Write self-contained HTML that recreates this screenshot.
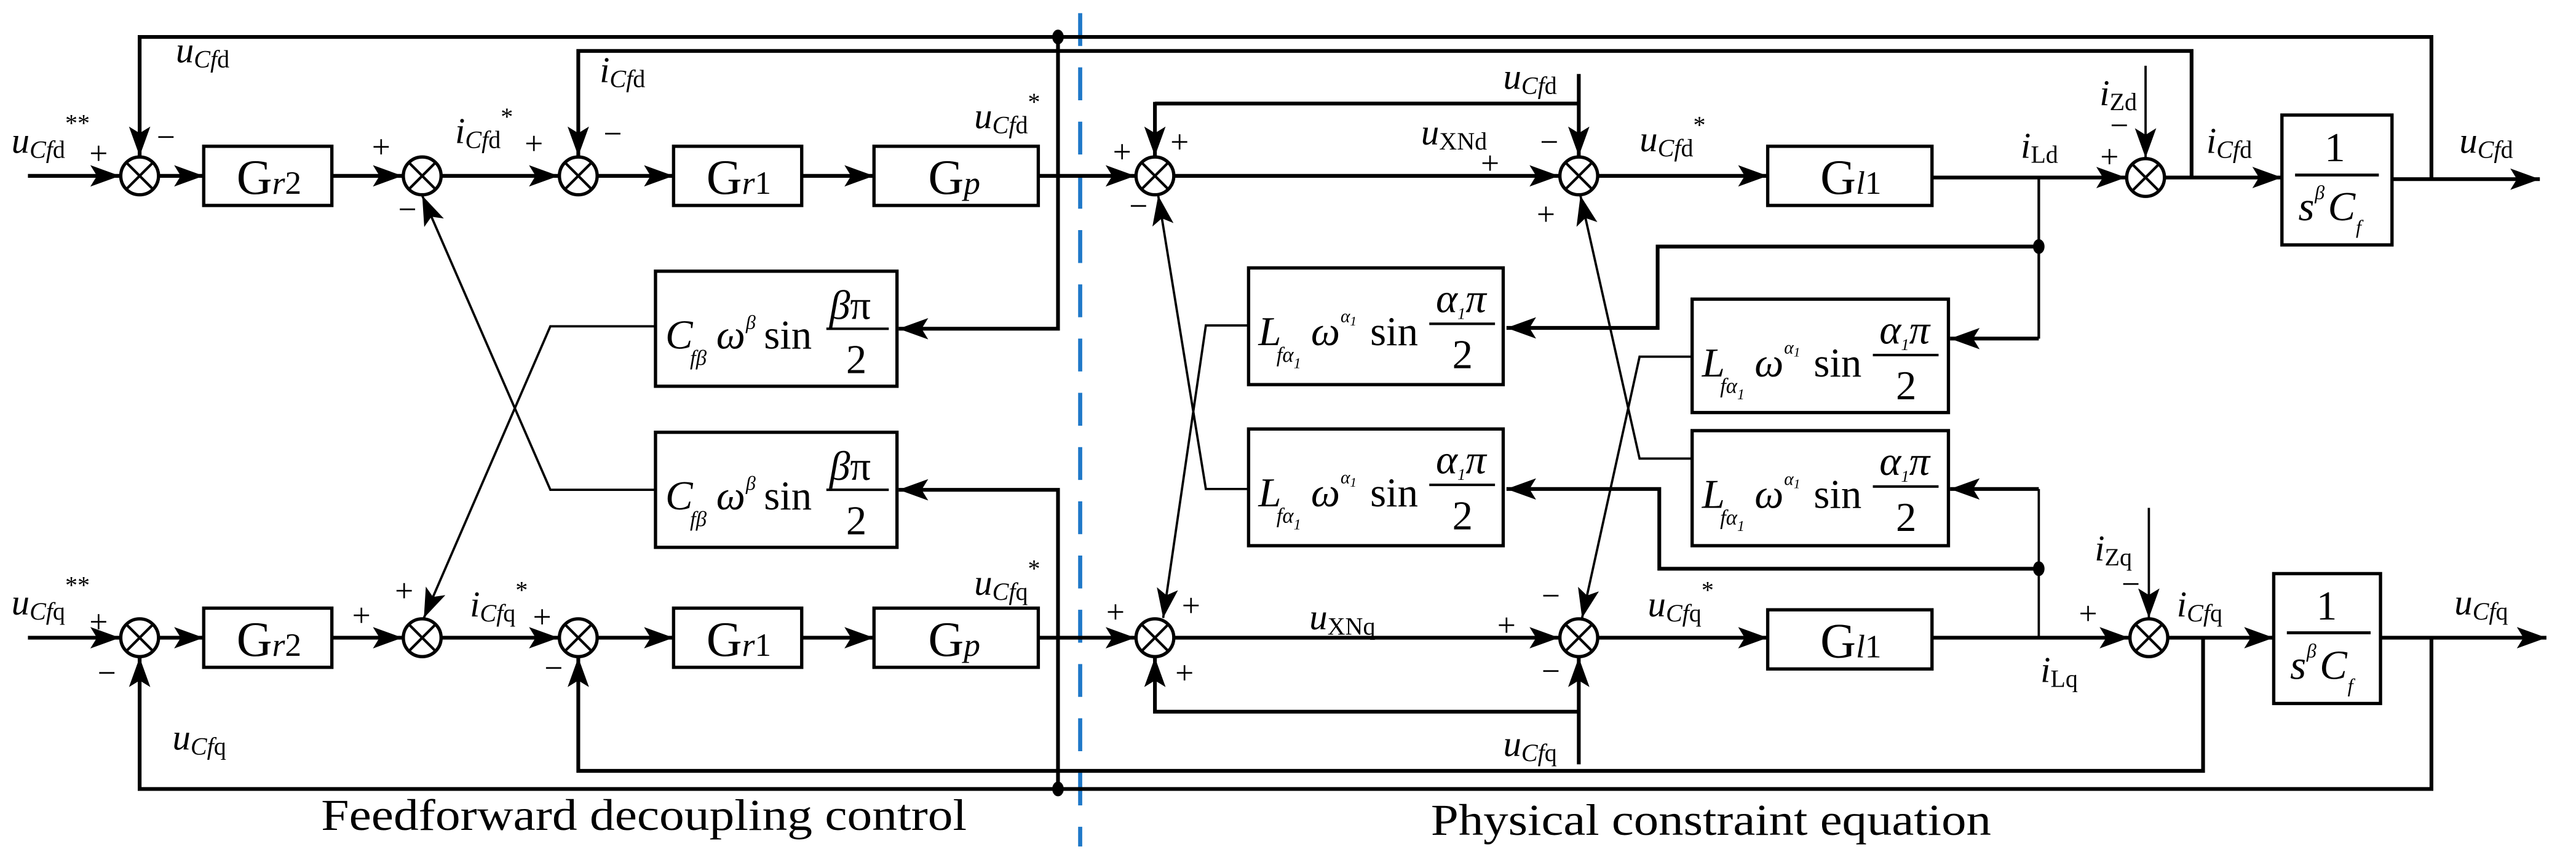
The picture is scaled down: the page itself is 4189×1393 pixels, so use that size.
<!DOCTYPE html>
<html><head><meta charset="utf-8"><style>
html,body{margin:0;padding:0;background:#fff}
svg{display:block}
text{font-family:"Liberation Serif",serif;fill:#000}
.l{font-size:22px}
.s{font-size:15px}
.pm{font-size:20px}
.g{font-size:30px}
.cap{font-size:27px}
.k{stroke:#000;fill:none}
.t{stroke-width:2.3}
.n{stroke-width:1.4}
</style></head><body>
<svg width="4189" height="1393" viewBox="0 0 1568 521.4" preserveAspectRatio="none" xmlns="http://www.w3.org/2000/svg">
<defs>
<marker id="a" markerUnits="userSpaceOnUse" markerWidth="19" markerHeight="14" refX="18" refY="6.5" orient="auto">
<path d="M0,0 L18,6.5 L0,13 L4,6.5 z" fill="#000"/></marker>
<g id="sum"><circle r="11.5" fill="#fff" stroke="#000" stroke-width="2"/><path d="M-8,-8 L8,8 M-8,8 L8,-8" stroke="#000" stroke-width="1.6"/></g>
</defs>
<rect width="1568" height="521.4" fill="#fff"/>

<line x1="657.5" y1="8" x2="657.5" y2="515" stroke="#1f78c8" stroke-width="2.5" stroke-dasharray="20,13"/>

<g class="k t">
<line x1="17" y1="107" x2="73" y2="107" marker-end="url(#a)"/>
<line x1="97" y1="107" x2="124" y2="107" marker-end="url(#a)"/>
<line x1="202" y1="107" x2="245" y2="107" marker-end="url(#a)"/>
<line x1="269" y1="107" x2="340" y2="107" marker-end="url(#a)"/>
<line x1="364" y1="107" x2="410" y2="107" marker-end="url(#a)"/>
<line x1="488" y1="107" x2="532" y2="107" marker-end="url(#a)"/>
<line x1="632" y1="107" x2="691" y2="107" marker-end="url(#a)"/>
<line x1="17" y1="388" x2="73" y2="388" marker-end="url(#a)"/>
<line x1="97" y1="388" x2="124" y2="388" marker-end="url(#a)"/>
<line x1="202" y1="388" x2="245" y2="388" marker-end="url(#a)"/>
<line x1="269" y1="388" x2="340" y2="388" marker-end="url(#a)"/>
<line x1="364" y1="388" x2="410" y2="388" marker-end="url(#a)"/>
<line x1="488" y1="388" x2="532" y2="388" marker-end="url(#a)"/>
<line x1="632" y1="388" x2="691" y2="388" marker-end="url(#a)"/>
<line x1="715" y1="107" x2="949" y2="107" marker-end="url(#a)"/>
<line x1="973" y1="107" x2="1076" y2="107" marker-end="url(#a)"/>
<line x1="1176" y1="108" x2="1294" y2="108" marker-end="url(#a)"/>
<line x1="1318" y1="108" x2="1389" y2="108" marker-end="url(#a)"/>
<line x1="1456" y1="109" x2="1546" y2="109" marker-end="url(#a)"/>
<line x1="715" y1="388" x2="949" y2="388" marker-end="url(#a)"/>
<line x1="973" y1="388" x2="1076" y2="388" marker-end="url(#a)"/>
<line x1="1176" y1="388" x2="1296" y2="388" marker-end="url(#a)"/>
<line x1="1320" y1="388" x2="1384" y2="388" marker-end="url(#a)"/>
<line x1="1449" y1="388" x2="1550" y2="388" marker-end="url(#a)"/>

<polyline points="1480,109 1480,22.5 85,22.5 85,95" marker-end="url(#a)"/>
<polyline points="1334,108 1334,31 352,31 352,95" marker-end="url(#a)"/>
<polyline points="1480,388 1480,480 85,480 85,400" marker-end="url(#a)"/>
<polyline points="1341,388 1341,469 352,469 352,400" marker-end="url(#a)"/>

<polyline points="644,22.5 644,200 547,200" marker-end="url(#a)"/>
<polyline points="644,480 644,298 547,298" marker-end="url(#a)"/>

<polyline points="703,63 961,63"/>
<line x1="703" y1="62" x2="703" y2="95" marker-end="url(#a)"/>
<line x1="961" y1="45" x2="961" y2="95" marker-end="url(#a)"/>
<polyline points="961,433 703,433 703,400" marker-end="url(#a)"/>
<line x1="961" y1="465" x2="961" y2="400" marker-end="url(#a)"/>

<polyline points="1241,150 1009,150 1009,199.5 917,199.5" marker-end="url(#a)"/>
<polyline points="1241,206 1187,206" marker-end="url(#a)"/>
<polyline points="1241,346 1010,346 1010,297.5 917,297.5" marker-end="url(#a)"/>
<polyline points="1241,297.5 1187,297.5" marker-end="url(#a)"/>
</g>

<g class="k n">
<line x1="1241" y1="108" x2="1241" y2="206"/>
<line x1="1241" y1="388" x2="1241" y2="297.5"/>
<line x1="1306" y1="40" x2="1306" y2="96" marker-end="url(#a)"/>
<line x1="1308" y1="309" x2="1308" y2="376" marker-end="url(#a)"/>
<polyline points="399,198.5 335,198.5 258,376" marker-end="url(#a)"/>
<polyline points="399,298 335,298 257,119" marker-end="url(#a)"/>
<polyline points="760,198 734,198 708,376" marker-end="url(#a)"/>
<polyline points="760,297.5 734,297.5 705,119" marker-end="url(#a)"/>
<polyline points="1030,217 998,217 963,376" marker-end="url(#a)"/>
<polyline points="1030,279 998,279 962,119" marker-end="url(#a)"/>
</g>
<line x1="1241" y1="108" x2="1241" y2="206" stroke="#000" stroke-width="1.6"/>

<g fill="#000"><ellipse cx="644" cy="22.5" rx="3.5" ry="4.5"/><ellipse cx="644" cy="480" rx="3.5" ry="4.5"/>
<ellipse cx="1241" cy="150" rx="3.5" ry="4.5"/><ellipse cx="1241" cy="346" rx="3.5" ry="4.5"/></g>

<use href="#sum" x="85" y="107"/><use href="#sum" x="257" y="107"/><use href="#sum" x="352" y="107"/>
<use href="#sum" x="85" y="388"/><use href="#sum" x="257" y="388"/><use href="#sum" x="352" y="388"/>
<use href="#sum" x="703" y="107"/><use href="#sum" x="961" y="107"/><use href="#sum" x="1306" y="108"/>
<use href="#sum" x="703" y="388"/><use href="#sum" x="961" y="388"/><use href="#sum" x="1308" y="388"/>

<g fill="#fff" stroke="#000" stroke-width="2">
<rect x="124" y="89" width="78" height="36"/><rect x="410" y="89" width="78" height="36"/><rect x="532" y="89" width="100" height="36"/>
<rect x="124" y="370" width="78" height="36"/><rect x="410" y="370" width="78" height="36"/><rect x="532" y="370" width="100" height="36"/>
<rect x="399" y="165" width="147" height="70"/><rect x="399" y="263" width="147" height="70"/>
<rect x="760" y="163" width="155" height="71"/><rect x="1030" y="182" width="156" height="69"/>
<rect x="760" y="261" width="155" height="71"/><rect x="1030" y="262" width="156" height="70"/>
<rect x="1076" y="89" width="100" height="36"/><rect x="1076" y="371" width="100" height="36"/>
<rect x="1389" y="70" width="67" height="79"/><rect x="1384" y="349" width="65" height="79"/>
</g>

<g class="g">
<text x="144" y="118">G<tspan font-style="italic" font-size="20">r</tspan><tspan font-size="20">2</tspan></text>
<text x="430" y="118">G<tspan font-style="italic" font-size="20">r</tspan><tspan font-size="20">1</tspan></text>
<text x="565" y="118">G<tspan font-style="italic" font-size="20">p</tspan></text>
<text x="144" y="399">G<tspan font-style="italic" font-size="20">r</tspan><tspan font-size="20">2</tspan></text>
<text x="430" y="399">G<tspan font-style="italic" font-size="20">r</tspan><tspan font-size="20">1</tspan></text>
<text x="565" y="399">G<tspan font-style="italic" font-size="20">p</tspan></text>
<text x="1108" y="118">G<tspan font-style="italic" font-size="20">l</tspan><tspan font-size="20">1</tspan></text>
<text x="1108" y="400">G<tspan font-style="italic" font-size="20">l</tspan><tspan font-size="20">1</tspan></text>
</g>

<g font-size="25">
<g transform="translate(405,0)">
<text x="0" y="212" font-style="italic">C</text><text x="15" y="222" font-size="13" font-style="italic">fβ</text>
<text x="31" y="212" font-style="italic">ω</text><text x="49" y="200" font-size="12" font-style="italic">β</text>
<text x="60" y="212">sin</text>
<text x="100" y="194" font-style="italic">β<tspan font-style="normal">π</tspan></text>
<line x1="98" y1="200" x2="136" y2="200" stroke="#000" stroke-width="1.5"/>
<text x="110" y="227">2</text>
</g>
<g transform="translate(405,98)">
<text x="0" y="212" font-style="italic">C</text><text x="15" y="222" font-size="13" font-style="italic">fβ</text>
<text x="31" y="212" font-style="italic">ω</text><text x="49" y="200" font-size="12" font-style="italic">β</text>
<text x="60" y="212">sin</text>
<text x="100" y="194" font-style="italic">β<tspan font-style="normal">π</tspan></text>
<line x1="98" y1="200" x2="136" y2="200" stroke="#000" stroke-width="1.5"/>
<text x="110" y="227">2</text>
</g>
<g transform="translate(766,-2)">
<text x="0" y="212" font-style="italic">L</text><text x="11" y="222" font-size="13" font-style="italic">fα<tspan font-size="9" dy="4">1</tspan></text>
<text x="32" y="212" font-style="italic">ω</text><text x="50" y="198" font-size="11" font-style="italic">α<tspan font-size="8" dy="2">1</tspan></text>
<text x="68" y="212">sin</text>
<text x="108" y="192" font-style="italic">α<tspan font-size="10" dy="4">1</tspan><tspan dy="-4">π</tspan></text>
<line x1="104" y1="199" x2="144" y2="199" stroke="#000" stroke-width="1.5"/>
<text x="118" y="226">2</text>
</g>
<g transform="translate(1036,17)">
<text x="0" y="212" font-style="italic">L</text><text x="11" y="222" font-size="13" font-style="italic">fα<tspan font-size="9" dy="4">1</tspan></text>
<text x="32" y="212" font-style="italic">ω</text><text x="50" y="198" font-size="11" font-style="italic">α<tspan font-size="8" dy="2">1</tspan></text>
<text x="68" y="212">sin</text>
<text x="108" y="192" font-style="italic">α<tspan font-size="10" dy="4">1</tspan><tspan dy="-4">π</tspan></text>
<line x1="104" y1="199" x2="144" y2="199" stroke="#000" stroke-width="1.5"/>
<text x="118" y="226">2</text>
</g>
<g transform="translate(766,96)">
<text x="0" y="212" font-style="italic">L</text><text x="11" y="222" font-size="13" font-style="italic">fα<tspan font-size="9" dy="4">1</tspan></text>
<text x="32" y="212" font-style="italic">ω</text><text x="50" y="198" font-size="11" font-style="italic">α<tspan font-size="8" dy="2">1</tspan></text>
<text x="68" y="212">sin</text>
<text x="108" y="192" font-style="italic">α<tspan font-size="10" dy="4">1</tspan><tspan dy="-4">π</tspan></text>
<line x1="104" y1="199" x2="144" y2="199" stroke="#000" stroke-width="1.5"/>
<text x="118" y="226">2</text>
</g>
<g transform="translate(1036,97)">
<text x="0" y="212" font-style="italic">L</text><text x="11" y="222" font-size="13" font-style="italic">fα<tspan font-size="9" dy="4">1</tspan></text>
<text x="32" y="212" font-style="italic">ω</text><text x="50" y="198" font-size="11" font-style="italic">α<tspan font-size="8" dy="2">1</tspan></text>
<text x="68" y="212">sin</text>
<text x="108" y="192" font-style="italic">α<tspan font-size="10" dy="4">1</tspan><tspan dy="-4">π</tspan></text>
<line x1="104" y1="199" x2="144" y2="199" stroke="#000" stroke-width="1.5"/>
<text x="118" y="226">2</text>
</g>
<text x="1415" y="98">1</text>
<line x1="1397" y1="106.5" x2="1448" y2="106.5" stroke="#000" stroke-width="1.8"/>
<text x="1399" y="134" font-style="italic">s</text><text x="1409" y="121" font-size="12" font-style="italic">β</text><text x="1417" y="134" font-style="italic">C</text><text x="1434" y="142" font-size="12" font-style="italic">f</text>
<text x="1410" y="377">1</text>
<line x1="1392" y1="385" x2="1443" y2="385" stroke="#000" stroke-width="1.8"/>
<text x="1394" y="413" font-style="italic">s</text><text x="1404" y="400" font-size="12" font-style="italic">β</text><text x="1412" y="413" font-style="italic">C</text><text x="1429" y="421" font-size="12" font-style="italic">f</text>
</g>

<g class="l">
<text x="7" y="93"><tspan font-style="italic">u</tspan><tspan class="s" dy="3"><tspan font-style="italic">Cf</tspan>d</tspan><tspan class="s" dy="-16">**</tspan></text>
<text x="107" y="38"><tspan font-style="italic">u</tspan><tspan class="s" dy="3"><tspan font-style="italic">Cf</tspan>d</tspan></text>
<text x="365" y="50"><tspan font-style="italic">i</tspan><tspan class="s" dy="3"><tspan font-style="italic">Cf</tspan>d</tspan></text>
<text x="277" y="87"><tspan font-style="italic">i</tspan><tspan class="s" dy="3"><tspan font-style="italic">Cf</tspan>d</tspan><tspan class="s" dy="-14">*</tspan></text>
<text x="593" y="78"><tspan font-style="italic">u</tspan><tspan class="s" dy="3"><tspan font-style="italic">Cf</tspan>d</tspan><tspan class="s" dy="-14">*</tspan></text>
<text x="7" y="374"><tspan font-style="italic">u</tspan><tspan class="s" dy="3"><tspan font-style="italic">Cf</tspan>q</tspan><tspan class="s" dy="-16">**</tspan></text>
<text x="105" y="456"><tspan font-style="italic">u</tspan><tspan class="s" dy="3"><tspan font-style="italic">Cf</tspan>q</tspan></text>
<text x="286" y="375"><tspan font-style="italic">i</tspan><tspan class="s" dy="3"><tspan font-style="italic">Cf</tspan>q</tspan><tspan class="s" dy="-14">*</tspan></text>
<text x="593" y="362"><tspan font-style="italic">u</tspan><tspan class="s" dy="3"><tspan font-style="italic">Cf</tspan>q</tspan><tspan class="s" dy="-14">*</tspan></text>

<text x="915" y="54"><tspan font-style="italic">u</tspan><tspan class="s" dy="3"><tspan font-style="italic">Cf</tspan>d</tspan></text>
<text x="865" y="88"><tspan font-style="italic">u</tspan><tspan class="s" dy="3">XNd</tspan></text>
<text x="998" y="92"><tspan font-style="italic">u</tspan><tspan class="s" dy="3"><tspan font-style="italic">Cf</tspan>d</tspan><tspan class="s" dy="-14">*</tspan></text>
<text x="1230" y="96"><tspan font-style="italic">i</tspan><tspan class="s" dy="3">Ld</tspan></text>
<text x="1278" y="64"><tspan font-style="italic">i</tspan><tspan class="s" dy="3">Zd</tspan></text>
<text x="1343" y="93"><tspan font-style="italic">i</tspan><tspan class="s" dy="3"><tspan font-style="italic">Cf</tspan>d</tspan></text>
<text x="1497" y="93"><tspan font-style="italic">u</tspan><tspan class="s" dy="3"><tspan font-style="italic">Cf</tspan>d</tspan></text>

<text x="797" y="383"><tspan font-style="italic">u</tspan><tspan class="s" dy="3">XNq</tspan></text>
<text x="1003" y="375"><tspan font-style="italic">u</tspan><tspan class="s" dy="3"><tspan font-style="italic">Cf</tspan>q</tspan><tspan class="s" dy="-14">*</tspan></text>
<text x="1242" y="415"><tspan font-style="italic">i</tspan><tspan class="s" dy="3">Lq</tspan></text>
<text x="1275" y="341"><tspan font-style="italic">i</tspan><tspan class="s" dy="3">Zq</tspan></text>
<text x="1325" y="375"><tspan font-style="italic">i</tspan><tspan class="s" dy="3"><tspan font-style="italic">Cf</tspan>q</tspan></text>
<text x="1494" y="374"><tspan font-style="italic">u</tspan><tspan class="s" dy="3"><tspan font-style="italic">Cf</tspan>q</tspan></text>
<text x="915" y="460"><tspan font-style="italic">u</tspan><tspan class="s" dy="3"><tspan font-style="italic">Cf</tspan>q</tspan></text>
</g>

<g class="pm" text-anchor="middle">
<text x="60" y="100">+</text><text x="101" y="90">−</text>
<text x="232" y="96">+</text><text x="248" y="134">−</text>
<text x="325" y="94">+</text><text x="373" y="88">−</text>
<text x="60" y="385">+</text><text x="65" y="416">−</text>
<text x="220" y="381">+</text><text x="246" y="366">+</text>
<text x="330" y="382">+</text><text x="337" y="413">−</text>

<text x="683" y="99">+</text><text x="718" y="93">+</text><text x="693" y="132">−</text>
<text x="907" y="106">+</text><text x="943" y="93">−</text><text x="941" y="137">+</text>
<text x="1290" y="83">−</text><text x="1284" y="102">+</text>
<text x="679" y="379">+</text><text x="725" y="375">+</text><text x="721" y="416">+</text>
<text x="917" y="387">+</text><text x="944" y="369">−</text><text x="944" y="415">−</text>
<text x="1297" y="362">−</text><text x="1271" y="380">+</text>
</g>

<text x="195.5" y="505" class="cap" textLength="393" lengthAdjust="spacingAndGlyphs">Feedforward decoupling control</text>
<text x="871" y="508" class="cap" textLength="341" lengthAdjust="spacingAndGlyphs">Physical constraint equation</text>
</svg>
</body></html>
